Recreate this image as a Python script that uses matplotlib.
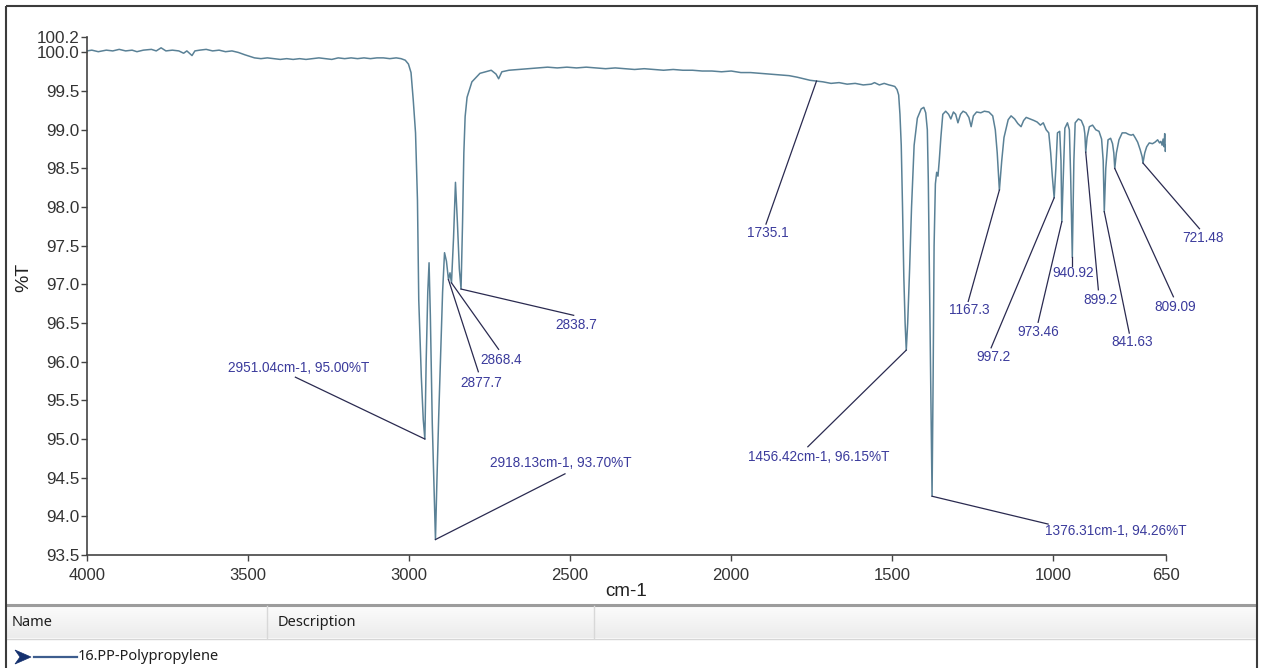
import matplotlib
matplotlib.use('Agg')
import matplotlib.pyplot as plt
import numpy as np
from matplotlib.patches import Rectangle, Polygon

# ---------------- data (wavenumber cm-1, %T) ----------------
spectrum_points = [
    (4000, 100.02), (3985, 100.03), (3965, 100.01), (3940, 100.03), (3920, 100.02),
    (3900, 100.04), (3880, 100.02), (3860, 100.03), (3845, 100.01), (3825, 100.03),
    (3800, 100.04), (3785, 100.02), (3770, 100.06), (3755, 100.02), (3735, 100.03),
    (3715, 100.02), (3700, 99.99), (3690, 100.02), (3674, 99.96), (3665, 100.02),
    (3650, 100.03), (3630, 100.04), (3610, 100.02), (3590, 100.03), (3570, 100.01),
    (3550, 100.02), (3530, 100.00), (3510, 99.97), (3495, 99.95), (3480, 99.93),
    (3460, 99.92), (3440, 99.93), (3420, 99.92), (3400, 99.91), (3380, 99.92),
    (3360, 99.91), (3340, 99.92), (3320, 99.91), (3300, 99.92), (3280, 99.93),
    (3260, 99.92), (3240, 99.91), (3220, 99.93), (3200, 99.92), (3180, 99.93),
    (3160, 99.92), (3140, 99.93), (3120, 99.92), (3100, 99.93), (3080, 99.93),
    (3060, 99.92), (3040, 99.93), (3025, 99.92), (3012, 99.90), (3002, 99.85),
    (2994, 99.74), (2987, 99.38), (2980, 98.96), (2974, 98.09), (2970, 96.8),
    (2962, 95.8), (2956, 95.25), (2951.04, 95.00), (2947, 96.0), (2942, 96.9),
    (2938, 97.28), (2934, 96.6), (2928, 95.2), (2922, 94.3), (2918.13, 93.70),
    (2914, 94.4), (2908, 95.3), (2902, 96.1), (2896, 96.9), (2890, 97.41),
    (2884, 97.3), (2877.7, 97.06), (2873, 97.15), (2868.4, 97.02), (2862, 97.6),
    (2856, 98.32), (2850, 97.8), (2844, 97.2), (2838.7, 96.94), (2834, 97.8),
    (2830, 98.7), (2826, 99.17), (2820, 99.42), (2805, 99.62), (2780, 99.73),
    (2745, 99.77), (2730, 99.72), (2722, 99.66), (2712, 99.75), (2690, 99.77),
    (2660, 99.78), (2630, 99.79), (2600, 99.80), (2570, 99.81), (2540, 99.80),
    (2510, 99.81), (2480, 99.80), (2450, 99.81), (2420, 99.80), (2390, 99.79),
    (2360, 99.80), (2330, 99.79), (2300, 99.78), (2270, 99.79), (2240, 99.78),
    (2210, 99.77), (2180, 99.78), (2150, 99.77), (2120, 99.77), (2090, 99.76),
    (2060, 99.76), (2030, 99.75), (2000, 99.76), (1970, 99.74), (1940, 99.74),
    (1910, 99.73), (1880, 99.72), (1850, 99.71), (1820, 99.70), (1795, 99.68),
    (1775, 99.66), (1755, 99.64), (1735.1, 99.63), (1715, 99.62), (1690, 99.60),
    (1665, 99.61), (1640, 99.59), (1615, 99.60), (1590, 99.58), (1565, 99.59),
    (1555, 99.61), (1540, 99.58), (1525, 99.60), (1510, 99.58), (1500, 99.57),
    (1492, 99.56), (1485, 99.52), (1480, 99.45), (1476, 99.2), (1472, 98.8),
    (1468, 98.0), (1464, 97.1), (1460, 96.5), (1456.42, 96.15), (1452, 96.5),
    (1446, 97.2), (1440, 98.0), (1432, 98.8), (1422, 99.15), (1410, 99.27),
    (1402, 99.29), (1396, 99.22), (1391, 99.0), (1388, 98.35), (1385, 97.3),
    (1381, 95.8), (1376.31, 94.26), (1373, 95.8), (1370, 97.5), (1366, 98.3),
    (1362, 98.45), (1358, 98.4), (1354, 98.6), (1349, 98.9), (1343, 99.2),
    (1334, 99.24), (1325, 99.2), (1318, 99.14), (1310, 99.23), (1303, 99.2),
    (1296, 99.09), (1288, 99.2), (1280, 99.24), (1271, 99.22), (1262, 99.16),
    (1255, 99.04), (1248, 99.18), (1238, 99.23), (1225, 99.22), (1214, 99.24),
    (1200, 99.23), (1188, 99.18), (1180, 99.0), (1174, 98.7), (1167.3, 98.22),
    (1160, 98.6), (1153, 98.9), (1140, 99.13), (1131, 99.18), (1120, 99.14),
    (1110, 99.08), (1100, 99.04), (1092, 99.12), (1084, 99.16), (1072, 99.14),
    (1060, 99.12), (1050, 99.10), (1040, 99.06), (1031, 99.09), (1022, 99.0),
    (1014, 98.96), (1008, 98.7), (1003, 98.4), (997.2, 98.12), (992, 98.5),
    (987, 98.96), (980, 98.98), (976, 98.6), (973.46, 97.81), (969, 98.4),
    (964, 99.02), (956, 99.09), (950, 99.0), (946, 98.4), (940.92, 97.35),
    (936, 98.6), (932, 99.09), (922, 99.14), (913, 99.12), (905, 99.04),
    (902, 98.95), (899.2, 98.71), (895, 98.9), (888, 99.04), (878, 99.06),
    (868, 99.0), (858, 98.98), (850, 98.88), (845, 98.6), (841.63, 97.94),
    (837, 98.5), (830, 98.87), (822, 98.89), (816, 98.82), (812, 98.7),
    (809.09, 98.5), (804, 98.7), (796, 98.87), (786, 98.96), (775, 98.96),
    (766, 98.94), (758, 98.93), (752, 98.94), (746, 98.9), (738, 98.84),
    (730, 98.74), (724, 98.65), (721.48, 98.57), (716, 98.7), (710, 98.78),
    (702, 98.83), (692, 98.82), (684, 98.84), (676, 98.87), (670, 98.83),
    (666, 98.85), (662, 98.8), (659, 98.88), (656, 98.78), (654, 98.95),
    (652, 98.72), (650, 98.8),
]
wavenumber = [p[0] for p in spectrum_points]
transmittance = [p[1] for p in spectrum_points]

x_ticks = [4000, 3500, 3000, 2500, 2000, 1500, 1000, 650]
y_ticks = [93.5, 94.0, 94.5, 95.0, 95.5, 96.0, 96.5, 97.0, 97.5, 98.0, 98.5, 99.0, 99.5, 100.0, 100.2]

peak_wn = [2951.04, 2918.13, 2877.7, 2868.4, 2838.7, 1735.1, 1456.42, 1376.31,
           1167.3, 997.2, 973.46, 940.92, 899.2, 841.63, 809.09, 721.48]
peak_T = [95.00, 93.70, 97.06, 97.02, 96.94, 99.63, 96.15, 94.26,
          98.22, 98.12, 97.81, 97.35, 98.71, 97.94, 98.50, 98.57]
peak_labels = ["2951.04cm-1, 95.00%T", "2918.13cm-1, 93.70%T", "2877.7", "2868.4", "2838.7",
               "1735.1", "1456.42cm-1, 96.15%T", "1376.31cm-1, 94.26%T", "1167.3", "997.2",
               "973.46", "940.92", "899.2", "841.63", "809.09", "721.48"]

# layout: label centres and leader start points (data coordinates)
label_pos = [(3344, 95.92), (2530, 94.69), (2775, 95.72), (2713, 96.02), (2480, 96.47),
             (1886, 97.66), (1728, 94.77), (806, 93.81), (1261, 96.67), (1187, 96.06),
             (1047, 96.38), (938, 97.15), (854, 96.80), (755, 96.25), (621, 96.71), (534, 97.60)]
leader_start = [(3353, 95.80), (2516, 94.55), (2785, 95.87), (2722, 96.16), (2489, 96.60),
                (1892, 97.78), (1762, 94.90), (1016, 93.90), (1264, 96.78), (1193, 96.18),
                (1047, 96.51), (940.92, 97.24), (860, 96.93), (764, 96.37), (627, 96.84), (546, 97.72)]

# ---------------- figure ----------------
W, H = 1262, 668
fig = plt.figure(figsize=(W / 100, H / 100), dpi=100)
fig.patch.set_facecolor('white')

arial = ['Liberation Sans', 'DejaVu Sans']
ui = ['Noto Sans', 'DejaVu Sans']

ax = fig.add_axes([87 / W, 1 - 555 / H, (1166 - 87) / W, (555 - 37) / H])
ax.plot(wavenumber, transmittance, color='#5a8196', lw=1.1)
ax.set_xlim(4000, 650)
ax.set_ylim(93.5, 100.2)
ax.set_xticks(x_ticks)
ax.set_xticklabels([str(v) for v in x_ticks], fontfamily=arial, fontsize=12, color='#333333')
ax.set_yticks(y_ticks)
ax.set_yticklabels([f'{v:.1f}' for v in y_ticks], fontfamily=arial, fontsize=12.3, color='#333333')
ax.tick_params(axis='x', length=4, width=1, pad=5, colors='#444444', labelcolor='#333333')
ax.tick_params(axis='y', length=4, width=1, pad=1.5, colors='#444444', labelcolor='#333333')
for s in ['top', 'right']:
    ax.spines[s].set_visible(False)
for s in ['left', 'bottom']:
    ax.spines[s].set_color('#444444')
    ax.spines[s].set_linewidth(1.2)
ax.set_xlabel('cm-1', fontfamily=arial, fontsize=13.5, color='#222222', labelpad=0)
ax.set_ylabel('%T', fontfamily=arial, fontsize=14, color='#222222')
ax.yaxis.set_label_coords(-0.051, 0.535)

for pw, pt, lab, (lx, ly), (sx, sy) in zip(peak_wn, peak_T, peak_labels, label_pos, leader_start):
    ax.plot([sx, pw], [sy, pt], color='#2a2a50', lw=0.9, clip_on=False, zorder=3)
    ax.text(lx, ly, lab, ha='center', va='center', color='#3b3b9c', fontsize=9.8,
            fontfamily=arial, clip_on=False, zorder=4)

# ---------------- window chrome / bottom panel ----------------
fg = fig.add_axes([0, 0, 1, 1], zorder=5)
fg.axis('off')
fg.patch.set_visible(False)

grad = np.linspace(0, 1, 32).reshape(-1, 1)
fg.imshow(grad, extent=(7, 1256, 638, 606),
          cmap=matplotlib.colors.LinearSegmentedColormap.from_list('g', ['#fbfbfb', '#ececec']),
          aspect='auto', zorder=1)
fg.set_xlim(0, W)
fg.set_ylim(H, 0)
fg.plot([7, 1256], [605, 605], color='#9c9c9c', lw=2.2, zorder=2)
fg.plot([7, 1256], [638.5, 638.5], color='#d6d6d6', lw=1, zorder=2)
fg.plot([267, 267], [606, 638], color='#d8d8d8', lw=1, zorder=2)
fg.plot([594, 594], [606, 638], color='#d8d8d8', lw=1, zorder=2)
fg.text(12, 622, 'Name', fontfamily=ui, fontsize=10.5, color='#1e1e1e', va='center', ha='left', zorder=3)
fg.text(278, 622, 'Description', fontfamily=ui, fontsize=10.5, color='#1e1e1e', va='center', ha='left', zorder=3)

fg.add_patch(Polygon([(15, 650), (31, 657), (15, 664), (20, 657)], closed=True,
                     facecolor='#14306e', edgecolor='#14306e', lw=0.5, zorder=3))
fg.plot([34, 77], [657, 657], color='#3d5d8e', lw=1.6, zorder=3)
fg.text(78, 657, '16.PP-Polypropylene', fontfamily=ui, fontsize=10.5, color='#1e1e1e',
        va='center', ha='left', zorder=3)

fg.add_patch(Rectangle((6, 6), 1251, 670, facecolor='none', edgecolor='#3c3c3c', lw=1.5, zorder=4))

fig.savefig('out.png', dpi=100, facecolor='white')
